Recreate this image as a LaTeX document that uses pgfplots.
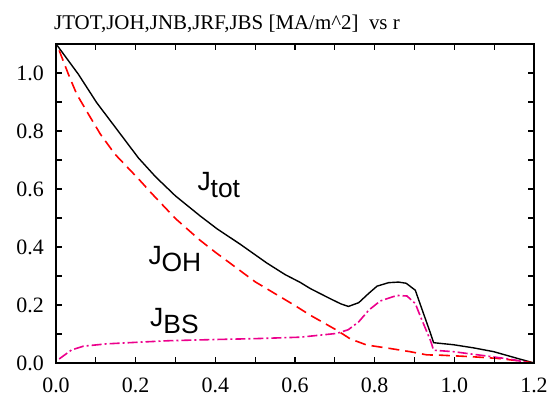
\documentclass[border=0pt]{standalone}
\usepackage{fontspec}
\setmainfont{Liberation Serif}
\newfontfamily\helv{Liberation Sans}
\newfontfamily\tms{Liberation Serif}
\usepackage{pgfplots}
\pgfplotsset{compat=1.18}
\definecolor{jgreen}{RGB}{0,235,0}
\begin{document}
\begin{tikzpicture}
\begin{axis}[width=478bp, height=319bp, scale only axis,
  xmin=0, xmax=1.2, ymin=0, ymax=1.1,
  xtick={0,0.2,0.4,0.6,0.8,1.0,1.2}, ytick={0,0.2,0.4,0.6,0.8,1.0},
  xticklabels={}, yticklabels={},
  minor x tick num=1, minor y tick num=1,
  tick align=inside, xtick pos=both, ytick pos=both,
  major tick length=6bp, minor tick length=6bp,
  every tick/.style={line width=1.2bp, black},
  every minor tick/.style={line width=1.2bp, black},
  axis line style={line width=1.5bp},
  axis on top, clip=true]
\coordinate (SW) at (rel axis cs:0,0);
\coordinate (NE) at (rel axis cs:1,1);
\coordinate (NW) at (rel axis cs:0,1);
\addplot[jgreen, line width=2.5bp] coordinates {(0,0) (1.2,0)};
\addplot[blue, line width=2.5bp, dash pattern=on 2bp off 40bp, dash phase=-10bp] coordinates {(0,0) (1.2,0)};
\addplot[black, line width=1.4bp] coordinates {
(0.003,1.095) (0.056,0.996) (0.102,0.898) (0.157,0.798) (0.207,0.707) (0.25,0.642)
(0.30,0.576) (0.362,0.507) (0.404,0.463) (0.462,0.410) (0.529,0.345) (0.575,0.305)
(0.613,0.278) (0.638,0.257) (0.688,0.222) (0.715,0.204) (0.734,0.195) (0.760,0.208)
(0.785,0.240) (0.806,0.265) (0.835,0.277) (0.86,0.279) (0.879,0.275) (0.902,0.251)
(0.915,0.200) (0.94,0.103) (0.948,0.07) (0.998,0.063) (1.049,0.052) (1.099,0.039)
(1.158,0.016) (1.2,0.0)};
\addplot[red, line width=1.6bp, dash pattern=on 11bp off 6bp] coordinates {
(0.008,1.078) (0.031,0.996) (0.052,0.927) (0.081,0.859) (0.111,0.790) (0.148,0.720)
(0.207,0.635) (0.24,0.585) (0.30,0.498) (0.36,0.425) (0.40,0.382) (0.50,0.280) (0.60,0.198)
(0.638,0.165) (0.705,0.113) (0.739,0.083) (0.78,0.062) (0.839,0.050) (0.889,0.039)
(0.931,0.028) (0.965,0.027) (1.04,0.022) (1.107,0.016) (1.166,0.007) (1.2,0.0)};
\addplot[magenta, line width=1.6bp, dash pattern=on 10bp off 3bp on 2bp off 3bp] coordinates {
(0.008,0.014) (0.039,0.045) (0.069,0.058) (0.127,0.066) (0.211,0.072) (0.286,0.077)
(0.40,0.081) (0.50,0.084) (0.613,0.089) (0.705,0.102) (0.734,0.115) (0.76,0.142)
(0.785,0.182) (0.814,0.214) (0.856,0.233) (0.881,0.231) (0.902,0.205) (0.915,0.160)
(0.94,0.078) (0.948,0.044) (0.998,0.039) (1.082,0.024) (1.141,0.013) (1.19,0.0)};
\end{axis}
\foreach \i/\l in {0/0.0,1/0.2,2/0.4,3/0.6,4/0.8,5/1.0,6/1.2}
  \node[anchor=north, inner sep=0, font=\tms\fontsize{22}{24}\selectfont] at ([xshift=\i*79.667bp, yshift=-15bp]SW) {\l};
\foreach \i/\l in {0/0.0,1/0.2,2/0.4,3/0.6,4/0.8,5/1.0}
  \node[anchor=east, inner sep=0, font=\tms\fontsize{22}{24}\selectfont] at ([xshift=-12bp, yshift=\i*58bp]SW) {\l};
\node[anchor=base west, inner sep=0, font=\helv\fontsize{26.5}{28}\selectfont] at ([xshift=141.3bp,yshift=172.3bp]SW) {J\raisebox{-6.5bp}{tot}};
\node[anchor=base west, inner sep=0, font=\helv\fontsize{26.5}{28}\selectfont] at ([xshift=92.3bp,yshift=98bp]SW) {J\raisebox{-6.5bp}{OH}};
\node[anchor=base west, inner sep=0, font=\helv\fontsize{26.5}{28}\selectfont] at ([xshift=94bp,yshift=36.3bp]SW) {J\raisebox{-6.5bp}{BS}};
\node[anchor=base west, inner sep=0, font=\tms\fontsize{21}{23}\selectfont] at ([xshift=-2bp,yshift=14.4bp]NW) {JTOT,JOH,JNB,JRF,JBS [MA/m\textasciicircum 2]\ \ vs r};
\pgfresetboundingbox
\path ([xshift=-56bp,yshift=-35bp]SW) rectangle ([xshift=13bp,yshift=44bp]NE);
\end{tikzpicture}
\end{document}
